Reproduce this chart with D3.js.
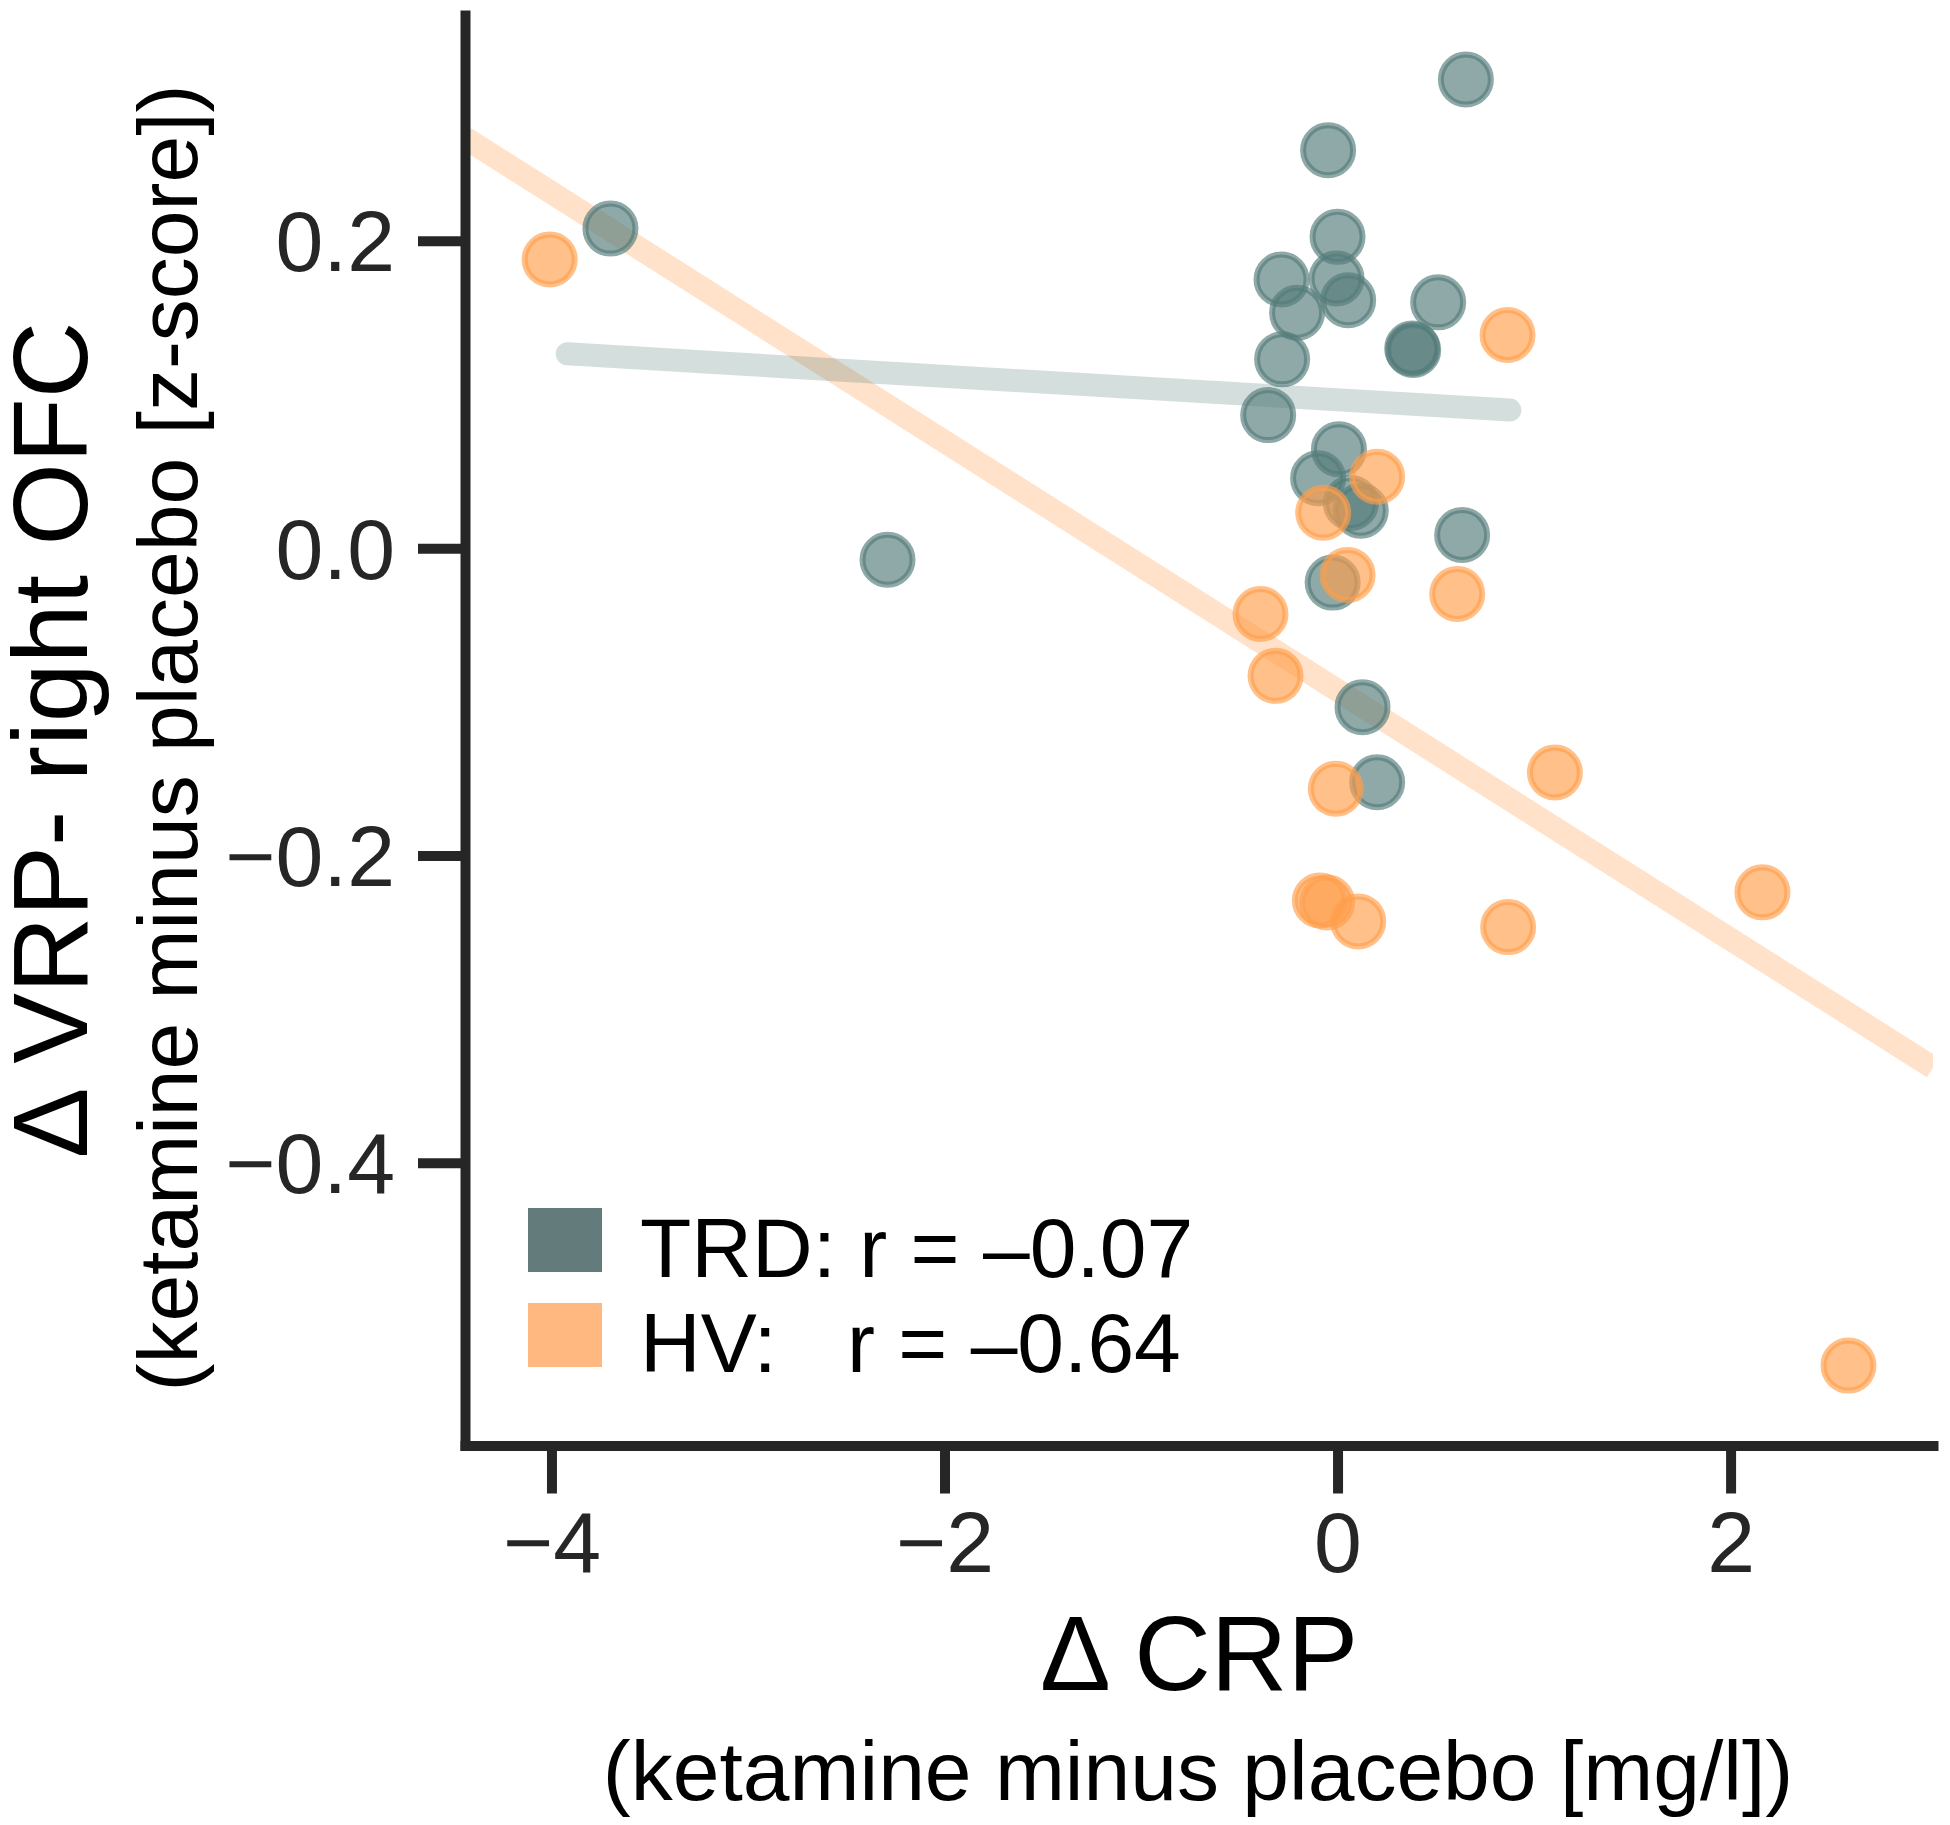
<!DOCTYPE html>
<html>
<head>
<meta charset="utf-8">
<script src="https://cdn.jsdelivr.net/npm/d3@7"></script>
<style>
  body { margin: 0; background: #fff; }
  text { font-family: "Liberation Sans", Arial, sans-serif; }
</style>
</head>
<body>
<div id="chart"></div>
<script>
// TRD group
const trdX = [-3.70, -2.29, 0.653, -0.048, 0.0, -0.285, -0.005, 0.054, -0.206, 0.512,
  0.38, 0.385, -0.282, -0.353, 0.007, -0.099, 0.068, 0.118, 0.634, -0.025, 0.127, 0.2015];
const trdY = [0.208, -0.0075, 0.305, 0.259, 0.2026, 0.1749, 0.1755, 0.1614, 0.1532, 0.160,
  0.130, 0.129, 0.1229, 0.0866, 0.0643, 0.0455, 0.0294, 0.0244, 0.0086, -0.0224, -0.1035, -0.1523];

// HV group
const hvX = [-4.009, 0.865, 0.2015, -0.073, 0.051, 0.609, -0.392, -0.3155, -0.009, 1.106,
  -0.09, -0.053, 0.105, 0.868, 2.162, 2.60];
const hvY = [0.1879, 0.1387, 0.0465, 0.0231, -0.0174, -0.0298, -0.0428, -0.0831, -0.1566, -0.146,
  -0.2293, -0.2306, -0.2429, -0.2466, -0.224, -0.532];

// fitted lines (end points as drawn)
const trdFitX = [-3.92, 0.877], trdFitY = [0.1265, 0.0899];
const hvFitX = [-4.44, 3.03], hvFitY = [0.267, -0.338];

const xTicks = [-4, -2, 0, 2];
const yTicks = [-0.4, -0.2, 0.0, 0.2];
const legendLabels = ["TRD: r = \u20130.07", "HV:   r = \u20130.64"];

const teal = "#537b79", orange = "#ff9e4b";

const W = 1950, H = 1825;
const plotLeft = 465, plotRight = 1933, plotTop = 15, plotBottom = 1445.5;

const svg = d3.select("#chart").append("svg")
  .attr("width", W).attr("height", H);

const x = d3.scaleLinear().domain([-4.44, 3.03]).range([plotLeft, plotRight]);
const y = d3.scaleLinear().domain([-0.584, 0.347]).range([plotBottom, plotTop]);

svg.append("clipPath").attr("id", "plot-clip")
  .append("rect")
    .attr("x", plotLeft).attr("y", plotTop)
    .attr("width", plotRight - plotLeft).attr("height", plotBottom - plotTop);

const plot = svg.append("g").attr("clip-path", "url(#plot-clip)");

// regression lines
plot.append("line")
  .attr("x1", x(hvFitX[0])).attr("y1", y(hvFitY[0]))
  .attr("x2", x(hvFitX[1])).attr("y2", y(hvFitY[1]))
  .attr("stroke", orange).attr("stroke-opacity", 0.3)
  .attr("stroke-width", 23);

plot.append("line")
  .attr("x1", x(trdFitX[0])).attr("y1", y(trdFitY[0]))
  .attr("x2", x(trdFitX[1])).attr("y2", y(trdFitY[1]))
  .attr("stroke", teal).attr("stroke-opacity", 0.25)
  .attr("stroke-width", 23).attr("stroke-linecap", "round");

function drawPoints(xs, ys, color) {
  plot.append("g").selectAll("circle")
    .data(xs.map((d, i) => ({x: d, y: ys[i]})))
    .enter().append("circle")
      .attr("cx", d => x(d.x))
      .attr("cy", d => y(d.y))
      .attr("r", 25)
      .attr("fill", color).attr("fill-opacity", 0.65)
      .attr("stroke", color).attr("stroke-opacity", 0.65)
      .attr("stroke-width", 6);
}
drawPoints(trdX, trdY, teal);
drawPoints(hvX, hvY, orange);

// axes
const yAxis = svg.append("g")
  .attr("transform", `translate(${plotLeft},0)`)
  .call(d3.axisLeft(y).tickValues(yTicks).tickFormat(d3.format(".1f"))
    .tickSize(47).tickPadding(23).tickSizeOuter(0));

const xAxis = svg.append("g")
  .attr("transform", `translate(0,${plotBottom})`)
  .call(d3.axisBottom(x).tickValues(xTicks).tickFormat(d3.format("d"))
    .tickSize(48).tickPadding(17).tickSizeOuter(0));

[xAxis, yAxis].forEach(a => {
  a.attr("font-family", null).attr("font-size", null);
  a.select(".domain")
    .attr("stroke", "#262626").attr("stroke-width", 10)
    .attr("stroke-linecap", "square");
  a.selectAll(".tick line")
    .attr("stroke", "#262626").attr("stroke-width", 10);
  a.selectAll(".tick text")
    .attr("fill", "#262626").style("font-size", "86px");
});
yAxis.selectAll(".tick text").attr("dy", "0.35em");

// axis titles
svg.append("text")
  .attr("transform", "translate(87,740) rotate(-90)")
  .attr("text-anchor", "middle")
  .style("font-size", "106px")
  .text("\u0394 VRP- right OFC");

svg.append("text")
  .attr("transform", "translate(197,738) rotate(-90)")
  .attr("text-anchor", "middle")
  .style("font-size", "84px")
  .text("(ketamine minus placebo [z-score])");

svg.append("text")
  .attr("x", 1199).attr("y", 1690)
  .attr("text-anchor", "middle")
  .style("font-size", "106px")
  .text("\u0394 CRP");

svg.append("text")
  .attr("x", 1198).attr("y", 1800)
  .attr("text-anchor", "middle")
  .style("font-size", "84px")
  .text("(ketamine minus placebo [mg/l])");

// legend
const legendColors = ["#637b7a", "#ffb880"];
const legend = svg.append("g").selectAll("g")
  .data(legendLabels)
  .enter().append("g")
    .attr("transform", (d, i) => `translate(528,${1208 + i * 95})`);

legend.append("rect")
  .attr("width", 74).attr("height", 64)
  .attr("fill", (d, i) => legendColors[i]);

legend.append("text")
  .attr("x", 112).attr("y", 69)
  .attr("xml:space", "preserve")
  .style("white-space", "pre")
  .style("font-size", "84px")
  .text(d => d);
</script>
</body>
</html>
